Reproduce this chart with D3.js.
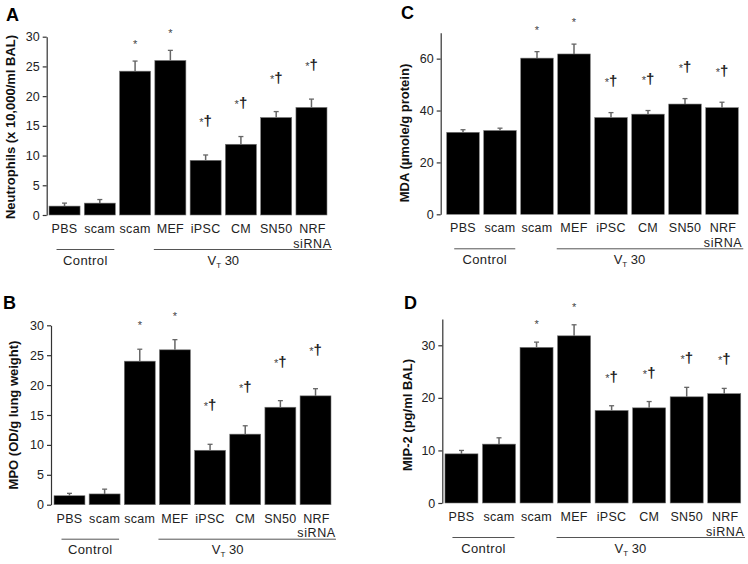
<!DOCTYPE html>
<html>
<head>
<meta charset="utf-8">
<script src="https://cdn.jsdelivr.net/npm/d3@7"></script>
<style>
  html, body { margin: 0; padding: 0; background: #fff; }
  svg { display: block; font-family: "Liberation Sans", Arial, sans-serif; }
</style>
</head>
<body>
<svg id="chart" width="748" height="564"></svg>
<script>
// ---- data ----
const categories = ["PBS", "scam", "scam", "MEF", "iPSC", "CM", "SN50", "NRF"];
const categorySecondLine = ["", "", "", "", "", "", "", "siRNA"];
const significance = ["", "", "*", "*", "*\u2020", "*\u2020", "*\u2020", "*\u2020"];
const groupLabels = ["Control", "VT 30"];

const neutrophilsMean = [1.5, 2.0, 24.2, 26.0, 9.2, 11.9, 16.4, 18.1];
const neutrophilsErr  = [0.5, 0.6, 1.7, 1.7, 0.9, 1.3, 1.0, 1.4];
const mpoMean = [1.5, 1.8, 24.0, 25.9, 9.1, 11.8, 16.3, 18.2];
const mpoErr  = [0.4, 0.8, 2.0, 1.7, 1.0, 1.4, 1.1, 1.2];
const mdaMean = [31.6, 32.3, 60.2, 61.8, 37.3, 38.6, 42.5, 41.1];
const mdaErr  = [1.0, 0.9, 2.5, 3.8, 1.9, 1.4, 2.1, 2.1];
const mip2Mean = [9.35, 11.2, 29.6, 31.8, 17.6, 18.1, 20.2, 20.8];
const mip2Err  = [0.65, 1.2, 1.0, 2.1, 0.9, 1.2, 1.8, 1.0];

const ticksA = [0, 5, 10, 15, 20, 25, 30];
const ticksB = [0, 5, 10, 15, 20, 25, 30];
const ticksC = [0, 20, 40, 60];
const ticksD = [0, 10, 20, 30];

// ---- layout ----
const panels = [
  { letter: "A", lx: 6, ly: 21, title: "Neutrophils (x 10,000/ml BAL)", tx: 12, ty: 127,
    mean: neutrophilsMean, err: neutrophilsErr, ticks: ticksA, yMax: 30,
    axisX: 46.7, y0: 215, yTop: 36.7, xr: [46.9, 329.1], star: 13, dag: 29 },
  { letter: "B", lx: 3, ly: 309, title: "MPO (OD/g lung weight)", tx: 15, ty: 415,
    mean: mpoMean, err: mpoErr, ticks: ticksB, yMax: 30,
    axisX: 51, y0: 504.7, yTop: 325.3, xr: [51.9, 333.1], star: 20, dag: 34 },
  { letter: "C", lx: 401, ly: 19, title: "MDA (\u00b5mole/g protein)", tx: 406, ty: 133,
    mean: mdaMean, err: mdaErr, ticks: ticksC, yMax: 70,
    axisX: 440.7, y0: 214.3, yTop: 32.7, xr: [444.5, 740.5], star: 18, dag: 26.5 },
  { letter: "D", lx: 404, ly: 309, title: "MIP-2 (pg/ml BAL)", tx: 409, ty: 415,
    mean: mip2Mean, err: mip2Err, ticks: ticksD, yMax: 35,
    axisX: 442.3, y0: 503, yTop: 319, xr: [442.7, 743], star: 14, dag: 24 }
];

const svg = d3.select("#chart");

panels.forEach(p => {
  const g = svg.append("g");
  const idx = d3.range(categories.length);
  const x = d3.scaleBand().domain(idx).range(p.xr).paddingInner(0.12).paddingOuter(0.06);
  const y = d3.scaleLinear().domain([0, p.yMax]).range([p.y0, p.yTop]);
  const bw = x.bandwidth();

  // y axis
  const axis = d3.axisLeft(y).tickValues(p.ticks).tickSize(4).tickSizeOuter(0).tickPadding(3);
  const ag = g.append("g").attr("transform", `translate(${p.axisX},0)`).call(axis);
  ag.select(".domain").attr("stroke", "#333").attr("stroke-width", 1.2);
  ag.selectAll(".tick line").attr("stroke", "#333").attr("stroke-width", 1.2);
  ag.selectAll(".tick text").attr("font-size", 12.5).attr("fill", "#222")
    .attr("font-family", "'Liberation Sans', Arial, sans-serif");

  // bars
  g.selectAll("rect.bar").data(idx).join("rect")
    .attr("class", "bar")
    .attr("x", i => x(i))
    .attr("width", bw)
    .attr("y", i => y(p.mean[i]))
    .attr("height", i => y(0) - y(p.mean[i]))
    .attr("fill", "#000")
    .attr("stroke", "#777")
    .attr("stroke-width", 0.6);

  // error bars (upper only)
  g.selectAll("line.err").data(idx).join("line")
    .attr("class", "err")
    .attr("x1", i => x(i) + bw / 2).attr("x2", i => x(i) + bw / 2)
    .attr("y1", i => y(p.mean[i])).attr("y2", i => y(p.mean[i] + p.err[i]))
    .attr("stroke", "#666").attr("stroke-width", 1.5);
  g.selectAll("line.cap").data(idx).join("line")
    .attr("class", "cap")
    .attr("x1", i => x(i) + bw / 2 - 2.5).attr("x2", i => x(i) + bw / 2 + 2.5)
    .attr("y1", i => y(p.mean[i] + p.err[i])).attr("y2", i => y(p.mean[i] + p.err[i]))
    .attr("stroke", "#666").attr("stroke-width", 1.3);

  // significance marks
  idx.filter(i => significance[i]).forEach(i => {
    const cx = x(i) + bw / 2;
    const top = y(p.mean[i] + p.err[i]);
    const s = significance[i];
    if (s === "*") {
      g.append("text").attr("x", cx).attr("y", top - p.star)
        .attr("text-anchor", "middle").attr("font-size", 11).attr("fill", "#444").text("*");
    } else {
      const t = g.append("text").attr("x", cx).attr("y", top - p.dag)
        .attr("text-anchor", "middle").attr("fill", "#222");
      t.append("tspan").attr("font-size", 11).attr("fill", "#444").attr("dy", 0).text("*");
      t.append("tspan").attr("font-size", 15).attr("font-weight", "bold").text("\u2020");
    }
  });

  // category labels
  g.selectAll("text.cat").data(idx).join("text")
    .attr("class", "cat")
    .attr("x", i => x(i) + bw / 2 + (i === 7 ? 1 : 0))
    .attr("y", p.y0 + 18)
    .attr("text-anchor", "middle").attr("font-size", 12.5).attr("fill", "#222")
    .attr("letter-spacing", 0.3)
    .text(i => categories[i]);
  g.selectAll("text.cat2").data(idx.filter(i => categorySecondLine[i])).join("text")
    .attr("class", "cat2")
    .attr("x", i => x(i) + bw / 2 + 1)
    .attr("y", p.y0 + 32.5)
    .attr("text-anchor", "middle").attr("font-size", 12.5).attr("fill", "#222")
    .attr("letter-spacing", 0.6)
    .text(i => categorySecondLine[i]);

  // group lines + labels
  const lineY = p.y0 + 34.5;
  const c0 = x(0) + 7.5, c1 = x(1) + bw - 1;
  const v0 = x(3) - 1, v1 = Math.min(x(7) + bw + 5, 745);
  g.append("line").attr("x1", c0).attr("x2", c1).attr("y1", lineY).attr("y2", lineY)
    .attr("stroke", "#555").attr("stroke-width", 1);
  g.append("line").attr("x1", v0).attr("x2", v1).attr("y1", lineY).attr("y2", lineY)
    .attr("stroke", "#555").attr("stroke-width", 1);
  g.append("text").attr("x", (c0 + c1) / 2).attr("y", p.y0 + 49.5)
    .attr("text-anchor", "middle").attr("font-size", 13).attr("fill", "#222")
    .attr("letter-spacing", 0.4).text(groupLabels[0]);
  const vt = g.append("text").attr("x", (x(4) + x(5) + bw) / 2).attr("y", p.y0 + 49.5)
    .attr("text-anchor", "middle").attr("font-size", 13).attr("fill", "#222");
  vt.append("tspan").text(groupLabels[1].split(" ")[0].charAt(0));
  vt.append("tspan").attr("font-size", 8).attr("dy", 3).text(groupLabels[1].split(" ")[0].slice(1));
  vt.append("tspan").attr("dy", -3).text(" " + groupLabels[1].split(" ")[1]);

  // axis title
  g.append("text")
    .attr("transform", `translate(${p.tx},${p.ty}) rotate(-90)`)
    .attr("text-anchor", "middle").attr("dominant-baseline", "middle")
    .attr("font-size", 13).attr("font-weight", "bold").attr("fill", "#111")
    .text(p.title);

  // panel letter
  g.append("text").attr("x", p.lx).attr("y", p.ly)
    .attr("font-size", 18).attr("font-weight", "bold").attr("fill", "#000")
    .text(p.letter);
});
</script>
</body>
</html>
